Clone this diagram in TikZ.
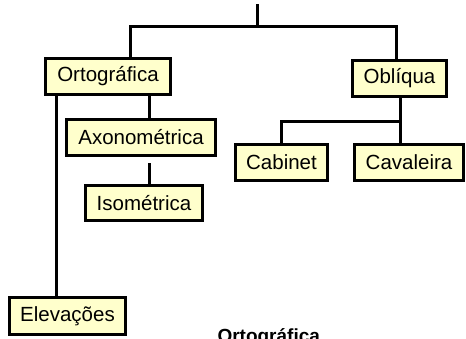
\documentclass[tikz,border=0pt]{standalone}
\usepackage{fontspec}
\setmainfont{Liberation Sans}
\usepackage{tikz}
\definecolor{boxfill}{RGB}{255,255,204}

\begin{document}
\begin{tikzpicture}[x=1pt,y=-1pt,line width=3pt,
    box/.style={draw,fill=boxfill,inner sep=0pt,minimum height=36pt,
      font=\fontsize{20.5}{24}\selectfont}]
      \useasboundingbox (0,0) rectangle (466,338);

      \node [box,minimum width=125pt] (1) at (108,76.5) {Ortográfica};
      \node [box,minimum width=149pt] (2) at (141,137.5) {Axonométrica};
      \node [box,minimum width=117pt,minimum height=35pt] (3) at (144,203) {Isométrica};
      \node [box,minimum width=116pt,minimum height=37pt] (4) at (67.5,316) {Elevações};
      \node [box,minimum width=94pt] (5) at (399.5,78.5) {Oblíqua};
      \node [box,minimum width=92pt] (6) at (281.5,162.5) {Cabinet};
      \node [box,minimum width=109pt] (7) at (409,162.5) {Cavaleira};
      %% caption, cut by the page edge
      \node [anchor=base west,inner sep=0pt,font=\fontsize{19}{23}\selectfont\bfseries]
        (8) at (216,342.6) {Ortográfica};

      \coordinate (0) at (257,4);
      \coordinate (a) at (257,26);
      \coordinate (b) at (130,26);
      \coordinate (c) at (396,26);
      \coordinate (d) at (400,121);

      \draw (0) -- (a);
      \draw (1.north -| b) -- (b) -- (c) -- (5.north -| c);
      \draw ([xshift=8pt]2.north) -- ([xshift=8pt]2.north |- 1.south);
      \draw ([xshift=5pt]3.north) -- ([xshift=5pt,yshift=-6pt]3.north |- 2.south);
      \draw ([xshift=-11.5pt]4.north) -- ([xshift=-11.5pt]4.north |- 1.south);
      \draw (5.south -| d) -- (7.north -| d);
      \draw (d) -| (6.north);
    \end{tikzpicture}
\end{document}
